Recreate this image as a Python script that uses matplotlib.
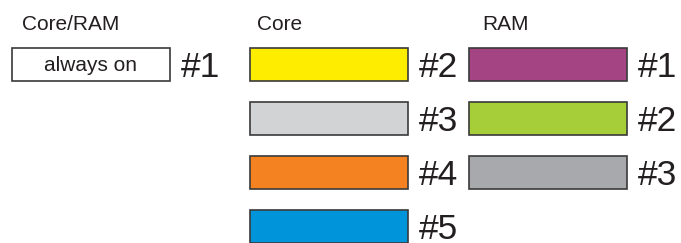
import matplotlib
matplotlib.use("Agg")
import matplotlib.pyplot as plt
from matplotlib.patches import Rectangle

# ---- data ----
header_labels = ["Core/RAM", "Core", "RAM"]
always_label = "always on"
always_id = "#1"
core_ids = ["#2", "#3", "#4", "#5"]
core_colors = ["#FFED00", "#D1D3D4", "#F58220", "#0095DA"]
ram_ids = ["#1", "#2", "#3"]
ram_colors = ["#A54483", "#A6CE39", "#A7A9AC"]

# ---- layout (pixels) ----
W, H = 681, 243
fig = plt.figure(figsize=(W / 100, H / 100), dpi=100)
ax = fig.add_axes([0, 0, 1, 1])
ax.set_xlim(0, W)
ax.set_ylim(H, 0)
ax.axis("off")

font = "Liberation Sans"
box_w, box_h = 158, 33
row_y0, row_step = 47.8, 54
col_x = [12, 250, 469]
header_x = [22, 257, 482]
edge = "#3a3a3a"
id_size = 25.5
cap = id_size * 100 / 72 * 0.716

for x, lab in zip(header_x, header_labels):
    ax.text(x, 30, lab, fontsize=15, family=font, ha="left", va="baseline", color="#231F20")

def draw_item(col, row, color, label):
    x = col_x[col]
    y = row_y0 + row * row_step
    ax.add_patch(Rectangle((x, y), box_w, box_h, facecolor=color, edgecolor=edge, linewidth=1.2))
    cy = y + box_h / 2
    ax.text(x + box_w + 11, cy + cap / 2, label, fontsize=id_size, family=font,
            ha="left", va="baseline", color="#231F20")
    return x, y

x, y = draw_item(0, 0, "white", always_id)
ax.text(x + box_w / 2, y + 23.5, always_label, fontsize=15, family=font,
        ha="center", va="baseline", color="#231F20")

for i, (lab, c) in enumerate(zip(core_ids, core_colors)):
    draw_item(1, i, c, lab)
for i, (lab, c) in enumerate(zip(ram_ids, ram_colors)):
    draw_item(2, i, c, lab)

fig.savefig("out.png", dpi=100)
